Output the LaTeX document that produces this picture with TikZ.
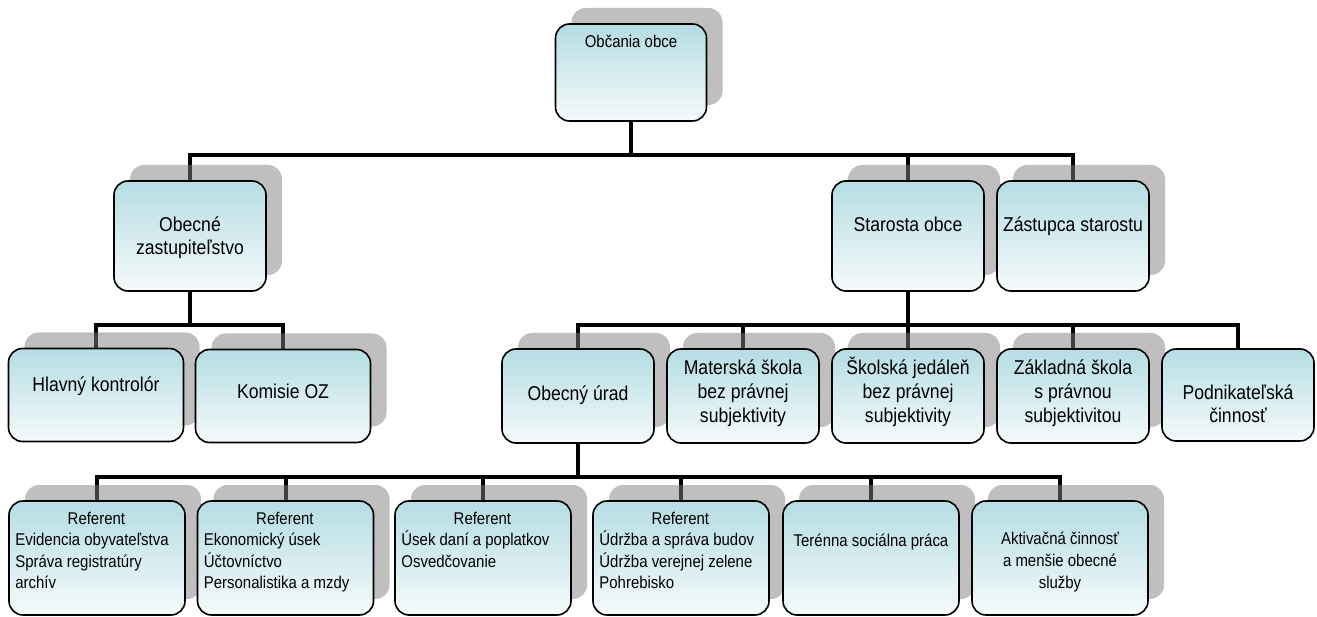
\documentclass[tikz,border=0pt]{standalone}
\usepackage{fontspec}
\setmainfont{Liberation Sans}[FakeStretch=0.88]
\usetikzlibrary{shadows,calc}
\pgfdeclarelayer{bg}
\pgfsetlayers{bg,main}
\definecolor{boxtop}{RGB}{180,221,227}
\definecolor{boxbot}{RGB}{246,250,251}
\newcommand\myTS{\rule{0pt}{1em}}
\newcommand\fsz[2]{\fontsize{#1}{#2}\selectfont}
\begin{document}
\begin{tikzpicture}[x=1pt,y=-1pt,
  orgbox/.style={rectangle, rounded corners=14pt, draw=black, line width=1.6pt,
    top color=boxtop, bottom color=boxbot, inner sep=0pt},
  shad/.style={drop shadow={shadow xshift=16pt, shadow yshift=16pt, opacity=0.5, fill=black!50}},
  wA/.style={minimum width=152pt, minimum height=110pt},
  wB/.style={minimum width=152pt, minimum height=94pt},
  wC/.style={minimum width=175pt, minimum height=93pt},
  wD/.style={minimum width=176pt, minimum height=114pt},
  conn/.style={line width=4pt, draw=black},
  txt/.style={inner sep=0pt, anchor=north, align=center},
  txl/.style={inner sep=0pt, anchor=north west, align=left},
  fS/.style={font=\fsz{17}{21.4}},
  fL/.style={font=\fsz{20}{23}},
  fM/.style={font=\fsz{20}{24}}
]
\useasboundingbox (0,0) rectangle (1317,617);

% boxes
\node[orgbox, shad, minimum width=151pt, minimum height=97pt] (top) at (631,72.5) {};
\node[orgbox, shad, wA] (obz) at (190,236) {};
\node[orgbox, shad, wA] (sta) at (908,236) {};
\node[orgbox, shad, wA] (zas) at (1073,236) {};
\node[orgbox, shad, wC] (hl) at (96,395) {};
\node[orgbox, shad, wC] (ko) at (283,396) {};
\node[orgbox, shad, wB] (urad) at (578,396) {};
\node[orgbox, shad, wB] (mat) at (743,396) {};
\node[orgbox, shad, wB] (sko) at (908,396) {};
\node[orgbox, shad, wB] (zak) at (1073,396) {};
\node[orgbox, wB, minimum height=92pt] (pod) at (1238,395) {};
\node[orgbox, shad, wD] (r1) at (97,558) {};
\node[orgbox, shad, wD] (r2) at (285.5,558) {};
\node[orgbox, shad, wD] (r3) at (483,558) {};
\node[orgbox, shad, wD] (r4) at (681,558) {};
\node[orgbox, shad, wD] (r5) at (871,558) {};
\node[orgbox, shad, wD] (r6) at (1060,558) {};

% bus coordinates
\coordinate (busA) at (631,155);
\coordinate (busB) at (190,325);
\coordinate (busC) at (908,325);
\coordinate (busD) at (578,477);

% connectors
\begin{pgfonlayer}{bg}
\draw[conn] (top.south) -- (top.south |- busA);
\draw[conn] (obz.north) -- (obz.north |- busA) -- (zas.north |- busA) -- (zas.north);
\draw[conn] (sta.north) -- (sta.north |- busA);

\draw[conn] (obz.south) -- (obz.south |- busB);
\draw[conn] (hl.north) -- (hl.north |- busB) -- (ko.north |- busB) -- (ko.north);

\draw[conn] (sta.south) -- (sta.south |- busC);
\draw[conn] (urad.north) -- (urad.north |- busC) -- (pod.north |- busC) -- (pod.north);
\draw[conn] (mat.north) -- (mat.north |- busC);
\draw[conn] (sko.north) -- (sko.north |- busC);
\draw[conn] (zak.north) -- (zak.north |- busC);

\draw[conn] (urad.south) -- (urad.south |- busD);
\draw[conn] (r1.north) -- (r1.north |- busD) -- (r6.north |- busD) -- (r6.north);
\draw[conn] (r2.north) -- (r2.north |- busD);
\draw[conn] (r3.north) -- (r3.north |- busD);
\draw[conn] (r4.north) -- (r4.north |- busD);
\draw[conn] (r5.north) -- (r5.north |- busD);
\end{pgfonlayer}

% texts
\node[txt, fS] (ttop) at ($(top.north)+(0,7)$) {\myTS Občania obce};
\node[txt, fL] (tobz) at ($(obz.north)+(0,31)$) {\myTS Obecné\\zastupiteľstvo};
\node[txt, fL] (tsta) at ($(sta.north)+(0,31)$) {\myTS Starosta obce};
\node[txt, fL] (tzas) at ($(zas.north)+(0,31)$) {\myTS Zástupca starostu};
\node[txt, fL] (thl) at ($(hl.north)+(0,24)$) {\myTS Hlavný kontrolór};
\node[txt, fL] (tko) at ($(ko.north)+(0,30)$) {\myTS Komisie OZ};
\node[txt, fL] (turad) at ($(urad.north)+(0,32)$) {\myTS Obecný úrad};
\node[txt, fM] (tmat) at ($(mat.north)+(0,6)$) {\myTS Materská škola\\bez právnej\\subjektivity};
\node[txt, fM] (tsko) at ($(sko.north)+(0,6)$) {\myTS Školská jedáleň\\bez právnej\\subjektivity};
\node[txt, fM] (tzak) at ($(zak.north)+(0,6)$) {\myTS Základná škola\\s právnou\\subjektivitou};
\node[txt, fL] (tpod) at ($(pod.north)+(0,31)$) {\myTS Podnikateľská\\činnosť};
\node[txl, fS] (tr1) at ($(r1.north west)+(7,7)$) {\myTS\makebox[162pt]{Referent}\\Evidencia obyvateľstva\\Správa registratúry\\archív};
\node[txl, fS] (tr2) at ($(r2.north west)+(7,7)$) {\myTS\makebox[162pt]{Referent}\\Ekonomický úsek\\Účtovníctvo\\Personalistika a mzdy};
\node[txl, fS] (tr3) at ($(r3.north west)+(7,7)$) {\myTS\makebox[162pt]{Referent}\\Úsek daní a poplatkov\\Osvedčovanie};
\node[txl, fS] (tr4) at ($(r4.north west)+(7,7)$) {\myTS\makebox[162pt]{Referent}\\Údržba a správa budov\\Údržba verejnej zelene\\Pohrebisko};
\node[txt, fS] (tr5) at ($(r5.north)+(0,29)$) {\myTS Terénna sociálna práca};
\node[txt, fS, font=\fsz{17}{22}] (tr6) at ($(r6.north)+(0,27)$) {\myTS Aktivačná činnosť\\a menšie obecné\\služby};
\end{tikzpicture}
\end{document}
